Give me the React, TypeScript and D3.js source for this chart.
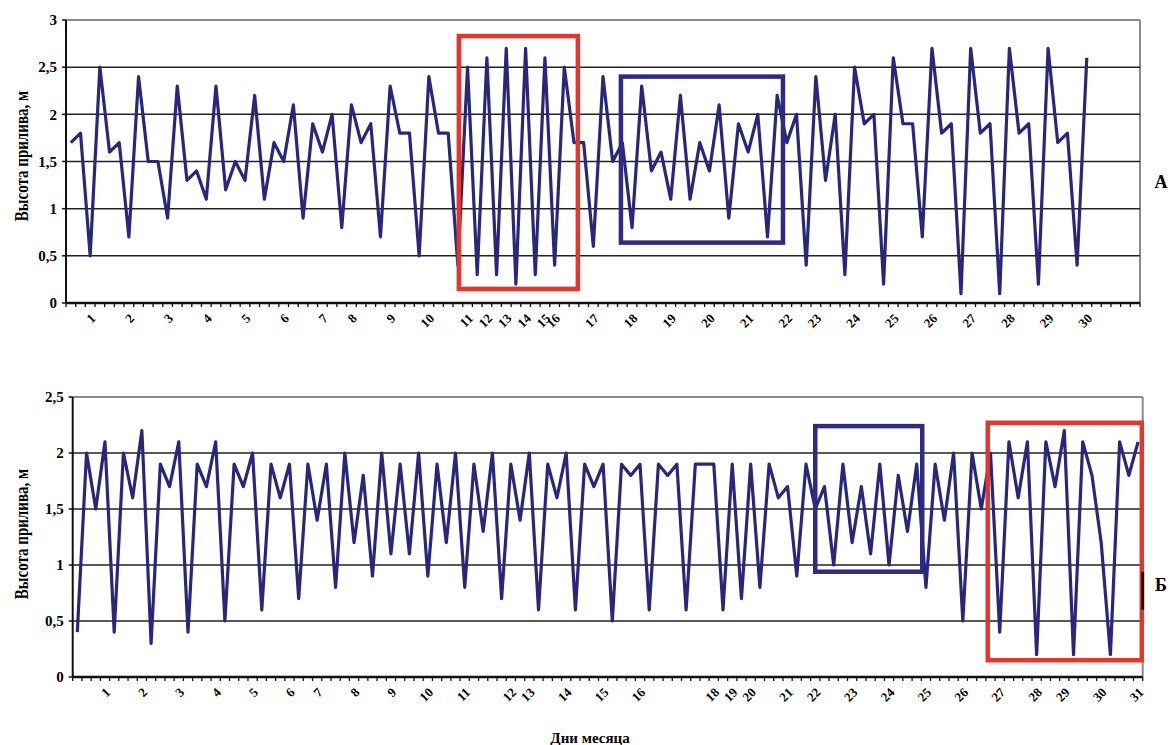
import * as d3 from "d3";

// tide heights (m), one value per reading
const topHeights = [
  1.7, 1.8, 0.5, 2.5, 1.6, 1.7, 0.7, 2.4, 1.5, 1.5, 0.9, 2.3, 1.3, 1.4, 1.1, 2.3, 1.2, 1.5, 1.3, 2.2, 1.1, 1.7, 1.5, 2.1,
  0.9, 1.9, 1.6, 2.0, 0.8, 2.1, 1.7, 1.9,
  0.7, 2.3, 1.8, 1.8, 0.5, 2.4, 1.8, 1.8,
  0.4, 2.5, 0.3, 2.6, 0.3, 2.7, 0.2, 2.7, 0.3, 2.6, 0.4, 2.5,
  1.7, 1.7, 0.6, 2.4, 1.5, 1.7, 0.8, 2.3,
  1.4, 1.6, 1.1, 2.2, 1.1, 1.7, 1.4, 2.1,
  0.9, 1.9, 1.6, 2.0, 0.7, 2.2, 1.7, 2.0,
  0.4, 2.4, 1.3, 2.0, 0.3, 2.5, 1.9, 2.0,
  0.2, 2.6, 1.9, 1.9, 0.7, 2.7, 1.8, 1.9,
  0.1, 2.7, 1.8, 1.9, 0.1, 2.7, 1.8, 1.9,
  0.2, 2.7, 1.7, 1.8, 0.4, 2.6,
];
const topCategoryCount = 111;
const topDays = d3.range(1, 31).map(String);
const topDayIndex = [2, 6, 10, 14, 18, 22, 26, 29, 33, 37, 41, 43, 45, 47, 49, 50, 54, 58, 62, 66, 70, 74, 77, 81, 85, 89, 93, 97, 101, 105];
const topYTicks = [0, 0.5, 1, 1.5, 2, 2.5, 3];

const bottomHeights = [
  0.4, 2.0, 1.5, 2.1, 0.4, 2.0, 1.6, 2.2,
  0.3, 1.9, 1.7, 2.1, 0.4, 1.9, 1.7, 2.1,
  0.5, 1.9, 1.7, 2.0, 0.6, 1.9, 1.6, 1.9,
  0.7, 1.9, 1.4, 1.9, 0.8, 2.0, 1.2, 1.8,
  0.9, 2.0, 1.1, 1.9, 1.1, 2.0, 0.9, 1.9,
  1.2, 2.0, 0.8, 1.9, 1.3, 2.0, 0.7, 1.9,
  1.4, 2.0, 0.6, 1.9, 1.6, 2.0, 0.6, 1.9,
  1.7, 1.9, 0.5, 1.9, 1.8, 1.9, 0.6, 1.9,
  1.8, 1.9, 0.6, 1.9, 1.9, 1.9, 0.6, 1.9,
  0.7, 1.9, 0.8, 1.9, 1.6, 1.7, 0.9, 1.9,
  1.5, 1.7, 1.0, 1.9, 1.2, 1.7, 1.1, 1.9,
  1.0, 1.8, 1.3, 1.9, 0.8, 1.9, 1.4, 2.0,
  0.5, 2.0, 1.5, 2.0, 0.4, 2.1, 1.6, 2.1,
  0.2, 2.1, 1.7, 2.2, 0.2, 2.1, 1.8, 1.2,
  0.2, 2.1, 1.8, 2.1,
];
const bottomCategoryCount = 116;
const bottomDays = [...d3.range(1, 17), ...d3.range(18, 32)].map(String);
const bottomDayIndex = [3, 7, 11, 15, 19, 23, 26, 30, 34, 38, 42, 47, 49, 53, 57, 61, 69, 71, 73, 77, 80, 84, 88, 92, 96, 100, 104, 107, 111, 115];
const bottomYTicks = [0, 0.5, 1, 1.5, 2, 2.5];

// highlighted spans: [fromCategory, toCategory, lowValue, highValue]
const topBoxes = [
  { span: [40.6, 52.9, 0.15, 2.83], color: "#e8352b" },
  { span: [57.35, 74.1, 0.64, 2.4], color: "#2e2b82" },
];
const bottomBoxes = [
  { span: [80.5, 92.1, 0.94, 2.24], color: "#2e2b82" },
  { span: [99.2, 115.9, 0.15, 2.27], color: "#e8352b" },
];
// dark stub on the right border of the lower plot: [low, high]
const bottomEdgeStub = [0.6, 0.94];

const FONT = "'Liberation Serif', 'Times New Roman', serif";
const LINE = "#29277a";

type PanelProps = {
  values: number[];
  count: number;
  days: string[];
  dayIndex: number[];
  yTicks: number[];
  boxes: { span: number[]; color: string }[];
  stub?: number[];
  left: number;
  right: number;
  top: number;
  bottom: number;
  letter: string;
  letterY: number;
  titleY: number;
};

const Panel = ({ values, count, days, dayIndex, yTicks, boxes, stub, left, right, top, bottom, letter, letterY, titleY }: PanelProps) => {
  const x = d3.scaleLinear().domain([0, count]).range([left, right]);
  const y = d3.scaleLinear().domain([0, d3.max(yTicks) as number]).range([bottom, top]);
  const line = d3
    .line<number>()
    .x((_, i) => x(i + 0.5))
    .y((d) => y(d));
  const yMax = d3.max(yTicks) as number;

  return (
    <g>
      {/* plot border */}
      <line x1={left} x2={right} y1={top} y2={top} stroke="#8a8a8a" strokeWidth={2} />
      <line x1={right} x2={right} y1={top} y2={bottom} stroke="#8a8a8a" strokeWidth={2} />
      {yTicks
        .filter((t) => t > 0 && t < yMax)
        .map((t) => (
          <line key={t} x1={left} x2={right} y1={y(t)} y2={y(t)} stroke="#222" strokeWidth={1.5} />
        ))}
      {/* axes */}
      <line x1={left} x2={left} y1={top} y2={bottom} stroke="#111" strokeWidth={2} />
      <line x1={left} x2={right} y1={bottom} y2={bottom} stroke="#111" strokeWidth={2.5} />
      {d3.range(0, count + 1).map((i) => (
        <line key={i} x1={x(i)} x2={x(i)} y1={bottom} y2={bottom + 4} stroke="#111" strokeWidth={1.3} />
      ))}
      {yTicks.map((t) => (
        <g key={t}>
          <line x1={left - 4} x2={left} y1={y(t)} y2={y(t)} stroke="#111" strokeWidth={1.5} />
          <text
            x={left - 9}
            y={y(t)}
            dy="0.35em"
            textAnchor="end"
            fontFamily={FONT}
            fontWeight="bold"
            fontSize={15}
          >
            {String(t).replace(".", ",")}
          </text>
        </g>
      ))}
      {days.map((d, k) => (
        <text
          key={d}
          transform={`translate(${x(dayIndex[k] + 0.5) + 3}, ${bottom + 13}) rotate(-45)`}
          textAnchor="end"
          dy="0.35em"
          fontFamily={FONT}
          fontWeight="bold"
          fontSize={13}
        >
          {d}
        </text>
      ))}
      <path d={line(values) ?? ""} fill="none" stroke={LINE} strokeWidth={3.2} strokeLinejoin="round" />
      {boxes.map((b, k) => (
        <rect
          key={k}
          x={x(b.span[0])}
          y={y(b.span[3])}
          width={x(b.span[1]) - x(b.span[0])}
          height={y(b.span[2]) - y(b.span[3])}
          fill="none"
          stroke={b.color}
          strokeWidth={4.5}
        />
      ))}
      {stub && (
        <line x1={right} x2={right} y1={y(stub[0])} y2={y(stub[1])} stroke="#111" strokeWidth={3} />
      )}
      <text
        transform={`translate(22, ${titleY}) rotate(-90) scale(1, 1.2)`}
        textAnchor="middle"
        dy="0.35em"
        fontFamily={FONT}
        fontWeight="bold"
        fontSize={15}
      >
        Высота прилива, м
      </text>
      <text x={1161} y={letterY} dy="0.35em" textAnchor="middle" fontFamily={FONT} fontWeight="bold" fontSize={18}>
        {letter}
      </text>
    </g>
  );
};

export default function App() {
  return (
    <svg
      width={1173}
      height={745}
      style={{ position: "absolute", left: 0, top: 0, background: "#fff" }}
    >
      <rect width={1173} height={745} fill="#fff" />
      <Panel
        values={topHeights}
        count={topCategoryCount}
        days={topDays}
        dayIndex={topDayIndex}
        yTicks={topYTicks}
        boxes={topBoxes}
        left={66}
        right={1140}
        top={20}
        bottom={303}
        letter="А"
        letterY={182}
        titleY={156}
      />
      <Panel
        values={bottomHeights}
        count={bottomCategoryCount}
        days={bottomDays}
        dayIndex={bottomDayIndex}
        yTicks={bottomYTicks}
        boxes={bottomBoxes}
        stub={bottomEdgeStub}
        left={72.7}
        right={1142.7}
        top={397}
        bottom={677}
        letter="Б"
        letterY={585}
        titleY={534}
      />
      <text x={590} y={738} dy="0.35em" textAnchor="middle" fontFamily={FONT} fontWeight="bold" fontSize={15}>
        Дни месяца
      </text>
    </svg>
  );
}
